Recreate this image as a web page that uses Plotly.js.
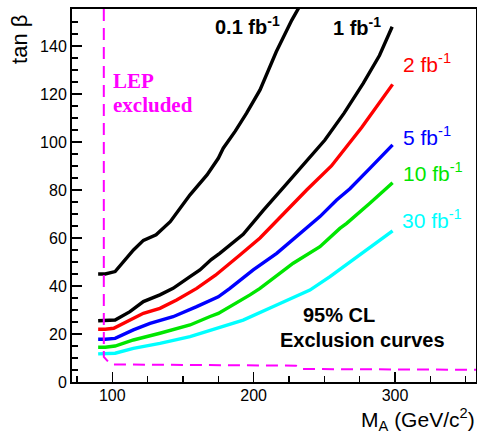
<!DOCTYPE html>
<html>
<head>
<meta charset="utf-8">
<script src="https://cdn.plot.ly/plotly-3.0.1.min.js"></script>
<style>html,body{margin:0;padding:0;background:#fff;}#chart{width:477px;height:433px;}</style>
</head>
<body>
<div id="chart"></div>
<script>
// 0.1 fb^-1
const ma01 = [90, 95, 102, 108, 115, 122, 131, 141, 155, 167, 175, 178.5, 187, 195, 204.5, 216, 227, 233];
const tb01 = [45, 45, 46, 50, 55, 59, 61.3, 66.8, 78, 86.3, 93.2, 97.4, 104.5, 112, 121.7, 137.6, 150.8, 157];
// 1 fb^-1
const ma1 = [90, 95, 102, 112.5, 122, 133.7, 143, 155, 162, 170, 176, 192.6, 206.8, 223.3, 239.8, 250.4, 264, 277.5, 289, 298];
const tb1 = [25.5, 25.5, 25.8, 29.3, 33.5, 36.3, 39, 43.9, 46.7, 51, 53.6, 61.5, 71.5, 82.5, 93.5, 100.8, 112, 124.4, 136, 148];
// 2 fb^-1
const ma2 = [90, 95, 101, 110, 122, 133.7, 145.5, 159.7, 173, 190.3, 204.5, 221, 237.5, 255, 276.4, 298.3];
const tb2 = [22, 22, 22.4, 25.1, 28.6, 30.7, 34.2, 39, 44.5, 52.9, 60, 70, 80, 90, 106, 124];
// 5 fb^-1
const ma5 = [90, 95, 102, 114.9, 126.7, 143, 159.7, 175, 183.2, 199.7, 216.3, 232.7, 246.9, 258.7, 268.1, 282.2, 298.3];
const tb5 = [17.8, 17.8, 18.2, 21.7, 24.4, 27.2, 31.4, 35.5, 39, 46.7, 53.6, 62, 68.9, 75.8, 80.5, 89, 98.8];
// 10 fb^-1
const ma10 = [90, 95, 102, 114.9, 133.7, 155, 169.2, 175, 197.4, 204.5, 228, 246.9, 261, 265.8, 282.2, 298.3];
const tb10 = [14.5, 14.5, 15, 17.5, 20.3, 23.75, 27.3, 28.6, 36.3, 39, 49.5, 56.4, 64, 66.1, 74.5, 83];
// 30 fb^-1
const ma30 = [90, 95, 102, 114.9, 133.7, 155, 169.2, 175, 192.6, 216.3, 239.8, 254, 265.8, 298.3];
const tb30 = [11.7, 11.7, 12, 14, 16.1, 18.9, 21.5, 22.5, 25.8, 32.1, 38.3, 43.9, 49, 63];
// LEP excluded boundary
const lepMA = [94, 94, 97, 100, 230, 234, 357.3];
const lepTB = [155.4, 10.5, 8.5, 7.3, 6.8, 5.4, 5.1];

const seriesNames = ['0.1 fb<sup>-1</sup>', '1 fb<sup>-1</sup>', '2 fb<sup>-1</sup>', '5 fb<sup>-1</sup>', '10 fb<sup>-1</sup>', '30 fb<sup>-1</sup>'];
const colors = ['#000000', '#000000', '#ff0000', '#0000ff', '#00e600', '#00ffff'];
const xs = [ma01, ma1, ma2, ma5, ma10, ma30];
const ys = [tb01, tb1, tb2, tb5, tb10, tb30];
// label positions (data coords)
const labX = [195.3, 273.4, 322.3, 322.3, 326.8, 326.5];
const labY = [148.7, 148, 133, 102.5, 87.3, 67.9];

const SANS = 'Liberation Sans, Arial, sans-serif';
const SERIF = 'Liberation Serif, Times New Roman, serif';

const traces = xs.map((x, i) => ({
  x: x, y: ys[i], mode: 'lines', type: 'scatter',
  line: {color: colors[i], width: 3.4}, hoverinfo: 'none', showlegend: false
}));
traces.push({
  x: lepMA, y: lepTB, mode: 'lines', type: 'scatter',
  line: {color: '#ff00ff', width: 2, dash: '12px,7px'}, hoverinfo: 'none', showlegend: false
});

const annotations = seriesNames.map((t, i) => ({
  x: labX[i], y: labY[i], xref: 'x', yref: 'y',
  text: i < 2 ? '<b>' + t + '</b>' : t, showarrow: false,
  xanchor: 'center', yanchor: 'middle',
  font: {family: SANS, size: i < 2 ? 20 : 21, color: colors[i]}
}));
annotations.push(
  {x: 99.6, y: 125.2, xref: 'x', yref: 'y', text: '<b>LEP</b>', showarrow: false,
   xanchor: 'left', yanchor: 'middle', borderpad: 0,
   font: {family: SERIF, size: 21, color: '#ff00ff'}},
  {x: 99.6, y: 115.2, xref: 'x', yref: 'y', text: '<b>excluded</b>', showarrow: false,
   xanchor: 'left', yanchor: 'middle', borderpad: 0,
   font: {family: SERIF, size: 21, color: '#ff00ff'}},
  {x: 260.4, y: 27.9, xref: 'x', yref: 'y', text: '<b>95% CL</b>', showarrow: false,
   xanchor: 'center', yanchor: 'middle', font: {family: SANS, size: 20, color: '#000'}},
  {x: 277, y: 17.5, xref: 'x', yref: 'y', text: '<b>Exclusion curves</b>', showarrow: false,
   xanchor: 'center', yanchor: 'middle', font: {family: SANS, size: 20, color: '#000'}},
  {x: -0.1287, y: 0.917, xref: 'paper', yref: 'paper', text: 'tan β', showarrow: false, textangle: -90,
   xanchor: 'center', yanchor: 'middle', font: {family: SANS, size: 22, color: '#000'}},
  {x: 1, y: -0.1005, xref: 'paper', yref: 'paper', text: 'M<sub>A</sub> (GeV/c<sup>2</sup>)', showarrow: false,
   xanchor: 'right', yanchor: 'middle', borderpad: 0, font: {family: SANS, size: 21, color: '#000'}}
);

const layout = {
  width: 477, height: 433,
  margin: {l: 72, r: 1, t: 9, b: 51},
  paper_bgcolor: '#fff', plot_bgcolor: '#fff',
  showlegend: false,
  xaxis: {
    range: [71.5, 357.3], showgrid: false, zeroline: false,
    showline: true, linecolor: '#000', linewidth: 2, mirror: true,
    ticks: 'inside', ticklen: 10, tickwidth: 1.5, tickcolor: '#000',
    tick0: 0, dtick: 100, ticklabelstandoff: -2,
    minor: {ticks: 'inside', dtick: 25, tick0: 0, ticklen: 6, tickwidth: 1.5, tickcolor: '#000', showgrid: false},
    tickfont: {family: SANS, size: 16, color: '#000'}
  },
  yaxis: {
    range: [0, 155.4], showgrid: false, zeroline: false,
    showline: true, linecolor: '#000', linewidth: 2, mirror: true,
    ticks: 'inside', ticklen: 10, tickwidth: 1.5, tickcolor: '#000',
    tick0: 0, dtick: 20,
    minor: {ticks: 'inside', dtick: 5, tick0: 0, ticklen: 6, tickwidth: 1.5, tickcolor: '#000', showgrid: false},
    tickfont: {family: SANS, size: 16, color: '#000'}
  },
  annotations: annotations
};

Plotly.newPlot('chart', traces, layout, {staticPlot: true, displayModeBar: false});
</script>
</body>
</html>
